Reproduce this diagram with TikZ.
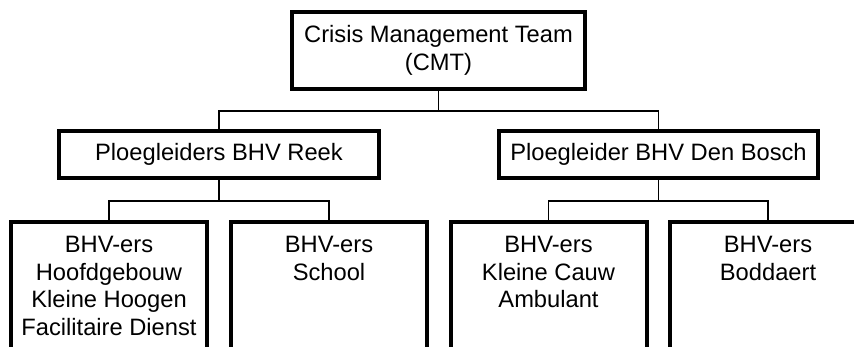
\documentclass[tikz,border=0pt]{standalone}
\usepackage{fontspec}
\setmainfont{Liberation Sans}
\usetikzlibrary{positioning}

\begin{document}
\begin{tikzpicture}[x=1pt,y=-1pt,
   orgbox/.style n args={2}{draw,line width=4pt,minimum width=#1,minimum height=#2,inner sep=0pt,align=center},
   bhvtext/.style={inner sep=0pt,align=center},
   conn/.style={line width=1.3pt},
   font=\fontsize{23.7}{27.5}\selectfont]
\useasboundingbox (0,0) rectangle (854,347);
\clip (0,0) rectangle (854,347);
% top level
\node[orgbox={293}{77}] (cmt) at (438.5,50.5) {Crisis Management Team\\(CMT)};
% ploegleiders
\node[orgbox={320}{47}] (reek) at (219,154.5) {Ploegleiders BHV Reek};
\node[orgbox={319}{47}] (bosch) at (658.5,154.5) {Ploegleider BHV Den Bosch};
% BHV-ers boxes (cut off at the bottom)
\foreach \name/\x in {hoofd/109,school/329,cauw/548.5,boddaert/768} {
   \node[orgbox={196}{170},anchor=north] (\name) at (\x,220) {};
}
\node[bhvtext,below=16pt of hoofd.north] (thoofd) {BHV-ers\\Hoofdgebouw\\Kleine Hoogen\\Facilitaire Dienst};
\node[bhvtext,below=16pt of school.north] (tschool) {BHV-ers\\School};
\node[bhvtext,below=16pt of cauw.north] (tcauw) {BHV-ers\\Kleine Cauw\\Ambulant};
\node[bhvtext,below=16pt of boddaert.north] (tboddaert) {BHV-ers\\Boddaert};
% connectors
\draw[conn] (cmt.south) -- ++(0,20) -| (reek.north);
\draw[conn] (cmt.south) -- ++(0,20) -| (bosch.north);
\draw[conn] (reek.south) -- ++(0,21) -| (hoofd.north);
\draw[conn] (reek.south) -- ++(0,21) -| (school.north);
\draw[conn] (bosch.south) -- ++(0,21) -| (cauw.north);
\draw[conn] (bosch.south) -- ++(0,21) -| (boddaert.north);
\end{tikzpicture}
\end{document}
